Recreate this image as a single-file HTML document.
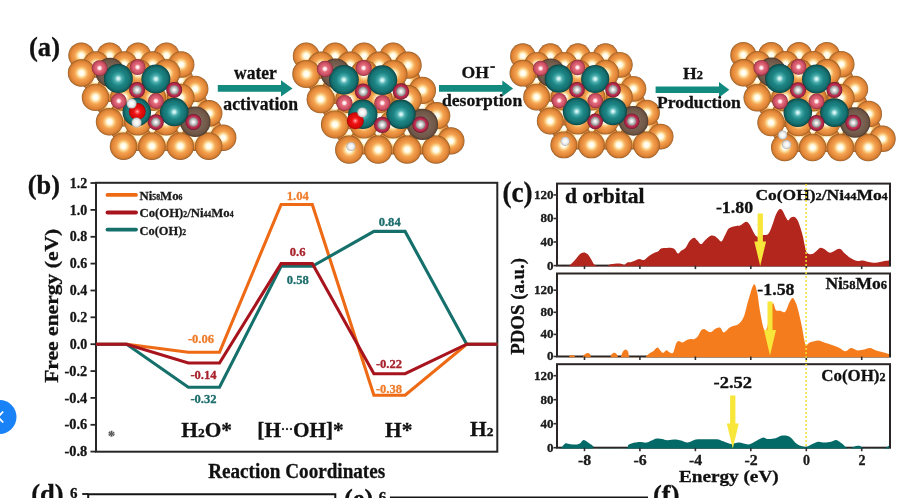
<!DOCTYPE html>
<html><head><meta charset="utf-8"><style>
html,body{margin:0;padding:0;background:#fff;width:916px;height:498px;overflow:hidden}
svg{display:block;filter:blur(0.45px)}
text{font-family:"Liberation Serif", serif;font-weight:bold}
</style></head><body>
<svg width="916" height="498" viewBox="0 0 916 498">
<defs>
<clipPath id="cp0"><rect x="558" y="183.6" width="331" height="83.0"/></clipPath>
<clipPath id="cp1"><rect x="558" y="273.5" width="331" height="84.0"/></clipPath>
<clipPath id="cp2"><rect x="558" y="364.2" width="331" height="84.5"/></clipPath>
<radialGradient id="gorg" cx="0.5" cy="0.5" r="0.5"><stop offset="0" stop-color="#ffffff"/><stop offset="0.19" stop-color="#fffbe6"/><stop offset="0.33" stop-color="#fcd48c"/><stop offset="0.5" stop-color="#f3a351"/><stop offset="0.7" stop-color="#ea9040"/><stop offset="0.86" stop-color="#db8135"/><stop offset="0.95" stop-color="#b96e2a"/><stop offset="1" stop-color="#855020"/></radialGradient>
<radialGradient id="gteal" cx="0.5" cy="0.5" r="0.5"><stop offset="0" stop-color="#eefefe"/><stop offset="0.1" stop-color="#bdeaea"/><stop offset="0.26" stop-color="#48acac"/><stop offset="0.5" stop-color="#1d8585"/><stop offset="0.78" stop-color="#177272"/><stop offset="0.92" stop-color="#105a5a"/><stop offset="1" stop-color="#0a3e3e"/></radialGradient>
<radialGradient id="gring" cx="0.5" cy="0.5" r="0.5"><stop offset="0" stop-color="#d84868"/><stop offset="0.55" stop-color="#d03e60"/><stop offset="0.74" stop-color="#b82c4c"/><stop offset="0.9" stop-color="#962040"/><stop offset="1" stop-color="#661028"/></radialGradient>
<radialGradient id="gpink" cx="0.5" cy="0.5" r="0.5"><stop offset="0" stop-color="#ffffff"/><stop offset="0.18" stop-color="#fde2e6"/><stop offset="0.38" stop-color="#e26a7a"/><stop offset="0.62" stop-color="#d65a6e"/><stop offset="0.86" stop-color="#ba4458"/><stop offset="1" stop-color="#882638"/></radialGradient>
<radialGradient id="gbrown" cx="0.5" cy="0.5" r="0.5"><stop offset="0" stop-color="#a89484"/><stop offset="0.4" stop-color="#7e6656"/><stop offset="0.85" stop-color="#6e5646"/><stop offset="1" stop-color="#4e3a2e"/></radialGradient>
<radialGradient id="gred" cx="0.5" cy="0.5" r="0.5"><stop offset="0" stop-color="#ffd0d0"/><stop offset="0.15" stop-color="#ff6060"/><stop offset="0.4" stop-color="#ec1212"/><stop offset="0.85" stop-color="#d40808"/><stop offset="1" stop-color="#960000"/></radialGradient>
<radialGradient id="gwhite" cx="0.5" cy="0.5" r="0.5"><stop offset="0" stop-color="#ffffff"/><stop offset="0.4" stop-color="#f6f6f6"/><stop offset="0.75" stop-color="#dedede"/><stop offset="1" stop-color="#a8a8a8"/></radialGradient>
<radialGradient id="ghring" cx="0.5" cy="0.5" r="0.5"><stop offset="0" stop-color="#ffffff"/><stop offset="0.22" stop-color="#f0f0f0"/><stop offset="0.55" stop-color="#c4c4c4"/><stop offset="0.85" stop-color="#9a9a9a"/><stop offset="1" stop-color="#787878"/></radialGradient>
</defs>
<rect width="916" height="498" fill="#fff"/>
<rect x="96" y="182.8" width="401.3" height="268.9" fill="none" stroke="#262626" stroke-width="2"/>
<line x1="90.5" y1="183.0" x2="96" y2="183.0" stroke="#262626" stroke-width="1.8" />
<text x="87.3" y="187.6" font-size="14" fill="#151515" stroke="#151515" stroke-width="0.3" text-anchor="end" >1.2</text>
<line x1="90.5" y1="209.9" x2="96" y2="209.9" stroke="#262626" stroke-width="1.8" />
<text x="87.3" y="214.5" font-size="14" fill="#151515" stroke="#151515" stroke-width="0.3" text-anchor="end" >1.0</text>
<line x1="90.5" y1="236.8" x2="96" y2="236.8" stroke="#262626" stroke-width="1.8" />
<text x="87.3" y="241.4" font-size="14" fill="#151515" stroke="#151515" stroke-width="0.3" text-anchor="end" >0.8</text>
<line x1="90.5" y1="263.6" x2="96" y2="263.6" stroke="#262626" stroke-width="1.8" />
<text x="87.3" y="268.2" font-size="14" fill="#151515" stroke="#151515" stroke-width="0.3" text-anchor="end" >0.6</text>
<line x1="90.5" y1="290.5" x2="96" y2="290.5" stroke="#262626" stroke-width="1.8" />
<text x="87.3" y="295.1" font-size="14" fill="#151515" stroke="#151515" stroke-width="0.3" text-anchor="end" >0.4</text>
<line x1="90.5" y1="317.3" x2="96" y2="317.3" stroke="#262626" stroke-width="1.8" />
<text x="87.3" y="321.9" font-size="14" fill="#151515" stroke="#151515" stroke-width="0.3" text-anchor="end" >0.2</text>
<line x1="90.5" y1="344.2" x2="96" y2="344.2" stroke="#262626" stroke-width="1.8" />
<text x="87.3" y="348.8" font-size="14" fill="#151515" stroke="#151515" stroke-width="0.3" text-anchor="end" >0.0</text>
<line x1="90.5" y1="371.1" x2="96" y2="371.1" stroke="#262626" stroke-width="1.8" />
<text x="64.5" y="375.7" font-size="14" fill="#151515" stroke="#151515" stroke-width="0.3" textLength="22.8" lengthAdjust="spacingAndGlyphs" >-0.2</text>
<line x1="90.5" y1="397.9" x2="96" y2="397.9" stroke="#262626" stroke-width="1.8" />
<text x="64.5" y="402.5" font-size="14" fill="#151515" stroke="#151515" stroke-width="0.3" textLength="22.8" lengthAdjust="spacingAndGlyphs" >-0.4</text>
<line x1="90.5" y1="424.8" x2="96" y2="424.8" stroke="#262626" stroke-width="1.8" />
<text x="64.5" y="429.4" font-size="14" fill="#151515" stroke="#151515" stroke-width="0.3" textLength="22.8" lengthAdjust="spacingAndGlyphs" >-0.6</text>
<line x1="90.5" y1="451.6" x2="96" y2="451.6" stroke="#262626" stroke-width="1.8" />
<text x="64.5" y="456.2" font-size="14" fill="#151515" stroke="#151515" stroke-width="0.3" textLength="22.8" lengthAdjust="spacingAndGlyphs" >-0.8</text>
<path d="M96.0,344.2 L126.7,344.2 L188.3,352.3 L219.5,352.3 L281.1,204.5 L312.3,204.5 L373.9,395.2 L405.1,395.2 L466.7,344.2 L497.3,344.2" fill="none" stroke="#ee6a14" stroke-width="3.1" stroke-linejoin="miter"/>
<path d="M96.0,344.2 L126.7,344.2 L188.3,387.2 L219.5,387.2 L281.1,266.3 L312.3,266.3 L373.9,231.4 L405.1,231.4 L466.7,344.2 L497.3,344.2" fill="none" stroke="#15706c" stroke-width="3.1" stroke-linejoin="miter"/>
<path d="M96.0,344.2 L126.7,344.2 L188.3,363.0 L219.5,363.0 L281.1,263.6 L312.3,263.6 L373.9,373.7 L405.1,373.7 L466.7,344.2 L497.3,344.2" fill="none" stroke="#a8141e" stroke-width="3.1" stroke-linejoin="miter"/>
<text x="201" y="342.8" font-size="12.6" fill="#ee7d2c" stroke="#ee7d2c" stroke-width="0.3" text-anchor="middle" >-0.06</text>
<text x="203.5" y="378.8" font-size="12.6" fill="#a8222c" stroke="#a8222c" stroke-width="0.3" text-anchor="middle" >-0.14</text>
<text x="203.5" y="402.8" font-size="12.6" fill="#1c6e6c" stroke="#1c6e6c" stroke-width="0.3" text-anchor="middle" >-0.32</text>
<text x="297.8" y="199.6" font-size="12.6" fill="#ee7d2c" stroke="#ee7d2c" stroke-width="0.3" text-anchor="middle" >1.04</text>
<text x="297.6" y="255.8" font-size="12.6" fill="#a8222c" stroke="#a8222c" stroke-width="0.3" text-anchor="middle" >0.6</text>
<text x="297.8" y="284.2" font-size="12.6" fill="#1c6e6c" stroke="#1c6e6c" stroke-width="0.3" text-anchor="middle" >0.58</text>
<text x="389.7" y="226.0" font-size="12.6" fill="#1c6e6c" stroke="#1c6e6c" stroke-width="0.3" text-anchor="middle" >0.84</text>
<text x="389" y="368.0" font-size="12.6" fill="#a8222c" stroke="#a8222c" stroke-width="0.3" text-anchor="middle" >-0.22</text>
<text x="389" y="392.8" font-size="12.6" fill="#ee7d2c" stroke="#ee7d2c" stroke-width="0.3" text-anchor="middle" >-0.38</text>
<line x1="107.5" y1="194.9" x2="136" y2="194.9" stroke="#ee6a14" stroke-width="3.8" stroke-linecap="round"/>
<line x1="107.5" y1="212.5" x2="136" y2="212.5" stroke="#a8141e" stroke-width="3.8" stroke-linecap="round"/>
<line x1="107.5" y1="229.6" x2="136" y2="229.6" stroke="#15706c" stroke-width="3.8" stroke-linecap="round"/>
<text x="139.5" y="199.6" font-size="13.2" fill="#1a1a1a" stroke="#1a1a1a" stroke-width="0.3" textLength="43" lengthAdjust="spacingAndGlyphs">Ni<tspan font-size="8">58</tspan>Mo<tspan font-size="8">6</tspan></text>
<text x="139.5" y="217.2" font-size="13.2" fill="#1a1a1a" stroke="#1a1a1a" stroke-width="0.3" textLength="94" lengthAdjust="spacingAndGlyphs">Co(OH)<tspan font-size="8">2</tspan>/Ni<tspan font-size="8">44</tspan>Mo<tspan font-size="8">4</tspan></text>
<text x="139.5" y="234.8" font-size="13.2" fill="#1a1a1a" stroke="#1a1a1a" stroke-width="0.3" textLength="46.6" lengthAdjust="spacingAndGlyphs">Co(OH)<tspan font-size="8">2</tspan></text>
<text x="108.0" y="440.8" font-size="14" fill="#555" stroke="#555" stroke-width="0.3" >*</text>
<text x="181.3" y="436.9" font-size="21.4" fill="#111" stroke="#111" stroke-width="0.3">H<tspan font-size="13.5">2</tspan>O*</text>
<text x="257.3" y="436.8" font-size="21.4" fill="#111" stroke="#111" stroke-width="0.3" textLength="86.5" lengthAdjust="spacingAndGlyphs">[H<tspan font-size="12" dy="-4">···</tspan><tspan dy="4">OH]*</tspan></text>
<text x="385" y="436.8" font-size="21.4" fill="#111" stroke="#111" stroke-width="0.3" >H*</text>
<text x="470" y="436.2" font-size="21.4" fill="#111" stroke="#111" stroke-width="0.3">H<tspan font-size="13.5">2</tspan></text>
<text x="296.7" y="477.9" font-size="20" fill="#111" stroke="#111" stroke-width="0.3" text-anchor="middle" textLength="177" lengthAdjust="spacingAndGlyphs" >Reaction Coordinates</text>
<text transform="translate(58.3,382.8) rotate(-90)" x="0" y="0" font-size="18.6" fill="#111" stroke="#111" stroke-width="0.3" textLength="154" lengthAdjust="spacingAndGlyphs">Free energy (eV)</text>
<text x="27.8" y="194.0" font-size="27" fill="#111" stroke="#111" stroke-width="0.3" textLength="32.2" lengthAdjust="spacingAndGlyphs" >(b)</text>
<rect x="557" y="183.6" width="333" height="82.00000000000003" fill="none" stroke="#2a2424" stroke-width="2"/>
<rect x="557" y="273.5" width="333" height="83.0" fill="none" stroke="#2a2424" stroke-width="2"/>
<rect x="557" y="364.2" width="333" height="83.5" fill="none" stroke="#2a2424" stroke-width="2"/>
<path d="M558.0,266.6 L558.0,266.6 C559.6,266.6 565.3,267.0 567.5,266.6 C569.7,266.2 569.8,265.1 571.0,264.0 C572.2,262.9 573.6,261.6 575.0,260.0 C576.4,258.4 578.1,255.8 579.5,254.5 C580.9,253.2 582.2,252.5 583.5,252.4 C584.8,252.3 586.2,252.9 587.5,254.0 C588.8,255.1 589.8,257.2 591.0,259.0 C592.2,260.8 593.0,263.5 594.5,264.8 C596.0,266.1 598.0,266.3 600.0,266.6 C602.0,266.9 604.5,267.0 606.3,266.6 C608.1,266.2 608.7,264.7 610.7,264.2 C612.8,263.7 616.6,263.4 618.6,263.4 C620.6,263.4 621.5,263.9 622.5,264.2 C623.5,264.4 623.7,265.2 624.5,264.9 C625.3,264.6 626.2,262.9 627.4,262.4 C628.5,261.9 630.1,262.2 631.4,261.9 C632.7,261.6 634.0,261.0 635.3,260.5 C636.6,260.0 637.7,259.1 639.2,259.0 C640.7,258.9 642.5,260.5 644.1,260.0 C645.7,259.5 647.2,257.2 649.0,256.0 C650.8,254.8 653.4,253.3 654.9,252.6 C656.4,251.9 656.9,252.2 657.9,251.6 C658.9,250.9 659.6,249.3 660.8,248.7 C661.9,248.1 663.1,248.2 664.8,248.0 C666.4,247.8 669.1,247.5 670.7,247.7 C672.3,247.9 673.4,248.2 674.6,249.2 C675.8,250.2 676.9,253.4 678.0,253.6 C679.1,253.8 680.2,251.6 681.5,250.6 C682.8,249.6 684.2,249.4 685.6,247.8 C687.0,246.2 688.4,242.5 689.8,240.8 C691.2,239.1 692.8,237.7 694.1,237.7 C695.4,237.7 696.4,239.7 697.6,240.8 C698.8,241.9 699.8,244.4 701.1,244.3 C702.4,244.2 703.8,241.5 705.3,240.1 C706.8,238.7 708.7,236.6 710.2,235.9 C711.7,235.2 713.2,235.4 714.5,235.9 C715.8,236.4 716.8,237.8 718.0,238.7 C719.2,239.6 720.3,242.1 721.5,241.5 C722.7,240.9 723.8,237.3 725.0,235.2 C726.2,233.1 727.2,230.2 728.5,228.8 C729.8,227.4 731.4,227.2 732.7,226.7 C734.0,226.2 735.0,226.2 736.3,226.0 C737.6,225.8 738.9,226.0 740.5,225.3 C742.1,224.6 744.6,221.9 746.1,221.8 C747.6,221.7 748.4,223.0 749.6,224.6 C750.8,226.2 752.1,229.7 753.1,231.6 C754.1,233.5 754.9,235.0 755.9,235.9 C756.9,236.8 757.9,237.1 759.0,237.0 C760.1,236.9 761.2,235.7 762.8,235.1 C764.4,234.5 766.8,235.6 768.4,233.7 C770.0,231.8 771.4,227.2 772.7,223.9 C774.0,220.6 775.0,216.6 776.2,214.1 C777.4,211.6 778.7,209.7 779.7,209.1 C780.8,208.5 781.6,209.3 782.5,210.5 C783.4,211.7 784.4,214.5 785.3,216.2 C786.2,217.8 787.2,220.2 788.1,220.4 C789.0,220.6 789.9,218.2 790.9,217.6 C791.9,217.0 793.3,216.6 794.4,216.9 C795.5,217.2 796.3,218.1 797.3,219.7 C798.2,221.3 799.2,223.9 800.1,226.7 C801.0,229.5 802.1,233.2 802.9,236.5 C803.7,239.8 804.3,243.7 805.0,246.4 C805.7,249.1 805.9,251.4 807.1,252.7 C808.3,254.0 810.5,254.3 812.0,254.1 C813.5,253.9 814.8,252.4 816.2,251.3 C817.6,250.2 819.0,248.2 820.4,247.8 C821.8,247.5 823.1,248.4 824.7,249.2 C826.3,250.0 827.8,252.8 830.2,252.7 C832.6,252.6 836.9,248.6 839.3,248.7 C841.7,248.8 842.9,251.7 844.7,253.2 C846.5,254.7 848.0,256.4 850.1,257.7 C852.2,259.0 855.2,260.6 857.3,261.0 C859.4,261.4 860.8,260.2 862.8,260.4 C864.8,260.6 866.9,261.6 869.0,262.0 C871.1,262.4 872.8,263.0 875.4,262.8 C878.0,262.6 882.1,261.4 884.4,261.0 C886.7,260.6 888.2,260.5 889.0,260.4 L889.0,266.6 Z" fill="#b2261e" clip-path="url(#cp0)"/>
<path d="M558.0,357.5 L558.0,357.5 C559.7,357.5 566.0,357.8 568.0,357.5 C570.0,357.2 569.0,355.9 570.0,355.6 C571.0,355.3 573.0,355.3 574.0,355.6 C575.0,355.9 574.7,357.2 576.0,357.5 C577.3,357.8 580.6,358.0 582.0,357.5 C583.4,357.0 583.6,355.2 584.5,354.5 C585.4,353.8 586.7,353.1 587.6,353.0 C588.5,352.9 589.2,353.2 590.0,354.0 C590.8,354.8 589.3,356.9 592.5,357.5 C595.7,358.1 605.9,357.9 609.0,357.5 C612.1,357.1 610.2,355.8 611.0,355.0 C611.8,354.2 612.9,353.0 613.8,352.8 C614.7,352.6 615.7,353.2 616.5,354.0 C617.3,354.8 617.8,356.9 618.5,357.5 C619.2,358.1 619.8,358.5 620.5,357.5 C621.2,356.5 622.1,352.8 623.0,351.5 C623.9,350.2 624.8,349.5 625.6,349.5 C626.4,349.5 627.2,350.2 628.0,351.5 C628.8,352.8 627.9,356.5 630.5,357.5 C633.1,358.5 641.1,357.5 643.5,357.5 C645.9,357.5 643.9,358.2 644.9,357.5 C645.9,356.8 648.2,354.3 649.6,353.3 C651.0,352.3 651.9,352.2 653.2,351.3 C654.5,350.4 656.2,347.7 657.4,347.6 C658.6,347.5 659.5,349.8 660.5,350.7 C661.5,351.6 662.2,352.9 663.2,352.8 C664.2,352.7 665.3,350.3 666.3,350.2 C667.3,350.1 668.4,351.8 669.4,352.3 C670.4,352.8 671.3,353.4 672.0,353.3 C672.7,353.2 672.9,353.5 673.6,351.8 C674.3,350.1 675.3,345.2 676.2,343.4 C677.1,341.6 677.8,341.2 678.8,341.1 C679.8,341.0 681.1,342.8 682.5,342.6 C683.9,342.4 685.7,340.4 687.2,339.8 C688.7,339.2 690.3,339.1 691.4,339.0 C692.5,338.9 693.0,339.6 694.0,339.2 C695.0,338.8 696.5,338.0 697.6,336.6 C698.7,335.2 699.8,332.2 700.8,330.9 C701.8,329.6 702.7,328.9 703.9,329.0 C705.1,329.1 706.9,330.9 708.1,331.4 C709.3,331.9 710.0,332.5 711.2,332.1 C712.4,331.7 713.9,329.5 715.4,328.8 C716.9,328.1 718.8,327.2 720.2,327.8 C721.6,328.4 722.3,332.4 723.8,332.4 C725.3,332.4 727.8,328.9 729.3,327.8 C730.8,326.7 731.4,326.6 732.9,326.0 C734.4,325.4 736.5,325.7 738.3,324.2 C740.1,322.7 742.1,320.9 743.7,317.0 C745.4,313.1 746.5,306.1 748.2,300.7 C749.9,295.3 752.2,285.8 753.7,284.4 C755.2,283.0 756.1,288.0 757.1,292.1 C758.1,296.2 758.6,303.4 759.6,309.1 C760.6,314.8 762.0,322.6 763.0,326.2 C764.0,329.8 764.9,331.2 765.8,330.5 C766.7,329.8 767.6,325.8 768.5,322.0 C769.4,318.2 770.2,311.1 771.0,308.0 C771.8,304.9 772.5,302.9 773.3,303.2 C774.1,303.5 774.7,308.7 775.8,310.0 C776.9,311.3 778.5,310.5 780.1,310.8 C781.7,311.1 783.6,313.1 785.2,311.7 C786.8,310.3 788.2,304.6 789.5,302.3 C790.8,300.0 791.8,297.7 792.9,298.0 C794.0,298.3 795.4,301.7 796.3,304.0 C797.2,306.3 797.5,307.6 798.5,311.6 C799.5,315.6 801.1,322.7 802.1,327.8 C803.1,332.9 804.0,339.4 804.8,342.3 C805.5,345.2 805.7,345.0 806.6,345.0 C807.5,345.0 808.2,343.1 810.2,342.3 C812.2,341.6 816.1,340.5 818.4,340.5 C820.7,340.5 821.5,341.6 823.8,342.3 C826.0,343.1 829.3,344.1 831.9,345.0 C834.5,345.9 836.8,346.6 839.1,347.7 C841.4,348.8 843.5,351.2 845.5,351.3 C847.5,351.4 848.9,348.2 850.9,348.1 C852.9,348.0 855.0,350.2 857.2,350.4 C859.5,350.6 862.3,349.9 864.4,349.5 C866.5,349.1 868.0,348.0 869.9,348.1 C871.8,348.2 874.0,349.8 876.0,350.4 C878.0,351.0 879.8,351.4 882.0,352.0 C884.2,352.6 887.8,353.7 889.0,354.0 L889.0,357.5 Z" fill="#f47c1c" clip-path="url(#cp1)"/>
<path d="M558.0,448.7 L558.0,448.7 C558.4,448.7 559.4,449.6 560.6,448.7 C561.8,447.8 563.6,444.2 565.2,443.5 C566.8,442.8 568.4,444.1 570.4,444.3 C572.4,444.5 575.4,444.7 577.0,444.5 C578.6,444.3 579.1,443.9 580.2,443.2 C581.3,442.4 582.3,440.2 583.5,440.0 C584.7,439.8 586.1,441.1 587.4,441.9 C588.7,442.7 590.5,444.0 591.5,444.8 C592.5,445.6 592.8,445.9 593.5,446.5 C594.2,447.1 590.3,448.3 595.5,448.7 C600.7,449.1 619.0,449.3 624.5,448.7 C630.0,448.1 626.8,445.8 628.5,444.8 C630.2,443.8 632.7,443.1 634.6,442.6 C636.5,442.1 637.8,441.9 639.8,441.9 C641.8,441.9 644.4,442.8 646.4,442.6 C648.4,442.4 649.9,441.3 651.6,440.6 C653.4,439.9 655.1,438.9 656.9,438.6 C658.6,438.3 660.4,438.6 662.1,438.9 C663.9,439.2 665.1,440.1 667.4,440.2 C669.7,440.3 673.7,439.4 676.0,439.5 C678.3,439.6 679.2,440.1 681.2,440.6 C683.2,441.1 685.4,442.8 687.8,442.6 C690.2,442.4 692.7,440.2 695.7,439.6 C698.8,439.1 702.6,439.4 706.1,439.3 C709.6,439.2 713.8,439.0 716.6,439.3 C719.5,439.6 720.8,440.5 723.2,441.3 C725.6,442.1 728.4,443.7 731.0,443.9 C733.6,444.1 736.0,442.5 738.9,442.6 C741.8,442.7 745.5,444.6 748.1,444.5 C750.7,444.4 752.2,442.8 754.6,441.7 C757.0,440.6 760.3,438.1 762.5,437.7 C764.7,437.2 765.5,438.9 767.7,439.0 C769.9,439.1 773.2,438.9 775.6,438.3 C778.0,437.7 779.7,435.8 782.1,435.6 C784.5,435.4 787.5,435.5 790.0,436.9 C792.5,438.3 794.4,442.2 797.0,443.9 C799.6,445.6 803.1,446.8 805.5,446.9 C807.9,447.0 809.3,445.4 811.4,444.5 C813.5,443.6 815.8,442.0 818.0,441.7 C820.2,441.4 822.3,442.6 824.5,442.6 C826.7,442.6 829.1,442.1 831.1,441.7 C833.1,441.3 834.5,439.8 836.3,440.0 C838.0,440.2 839.6,441.8 841.6,443.2 C843.6,444.6 846.1,448.1 848.1,448.7 C850.1,449.3 851.4,447.4 853.4,446.9 C855.4,446.4 857.9,445.6 859.9,445.9 C861.9,446.2 861.5,448.2 865.2,448.7 C868.9,449.2 878.3,449.2 882.2,448.7 C886.1,448.2 887.6,446.4 888.7,445.9 C889.8,445.4 889.0,445.6 889.0,445.5 L889.0,448.7 Z" fill="#046a68" clip-path="url(#cp2)"/>
<path d="M757.6,213.4 L762.9,213.4 L762.9,241.5 L766.1,241.5 L760.2,266.0 L754.3,241.5 L757.6,241.5 Z" fill="#f8e63a"/>
<path d="M767.5,301.5 L772.5,301.5 L772.5,330.0 L776.0,330.0 L770.0,355.5 L764.0,330.0 L767.5,330.0 Z" fill="#f8e63a"/>
<path d="M730.1,395.4 L735.4,395.4 L735.4,423.6 L738.8,423.6 L732.8,448.5 L726.8,423.6 L730.1,423.6 Z" fill="#f8e63a"/>
<line x1="553.5" y1="265.6" x2="557" y2="265.6" stroke="#303030" stroke-width="1.6" />
<text x="547.1" y="269.5" font-size="11.5" fill="#1a1a1a" stroke="#1a1a1a" stroke-width="0.3" textLength="6.5" lengthAdjust="spacingAndGlyphs" >0</text>
<line x1="553.5" y1="242.0" x2="557" y2="242.0" stroke="#303030" stroke-width="1.6" />
<text x="540.6" y="245.9" font-size="11.5" fill="#1a1a1a" stroke="#1a1a1a" stroke-width="0.3" textLength="13.0" lengthAdjust="spacingAndGlyphs" >40</text>
<line x1="553.5" y1="218.5" x2="557" y2="218.5" stroke="#303030" stroke-width="1.6" />
<text x="540.6" y="222.4" font-size="11.5" fill="#1a1a1a" stroke="#1a1a1a" stroke-width="0.3" textLength="13.0" lengthAdjust="spacingAndGlyphs" >80</text>
<line x1="553.5" y1="194.9" x2="557" y2="194.9" stroke="#303030" stroke-width="1.6" />
<text x="534.1" y="198.8" font-size="11.5" fill="#1a1a1a" stroke="#1a1a1a" stroke-width="0.3" textLength="19.5" lengthAdjust="spacingAndGlyphs" >120</text>
<line x1="584.5" y1="265.6" x2="584.5" y2="269.1" stroke="#303030" stroke-width="1.6" />
<line x1="639.9" y1="265.6" x2="639.9" y2="269.1" stroke="#303030" stroke-width="1.6" />
<line x1="695.4" y1="265.6" x2="695.4" y2="269.1" stroke="#303030" stroke-width="1.6" />
<line x1="750.8" y1="265.6" x2="750.8" y2="269.1" stroke="#303030" stroke-width="1.6" />
<line x1="806.3" y1="265.6" x2="806.3" y2="269.1" stroke="#303030" stroke-width="1.6" />
<line x1="861.7" y1="265.6" x2="861.7" y2="269.1" stroke="#303030" stroke-width="1.6" />
<line x1="553.5" y1="356.5" x2="557" y2="356.5" stroke="#303030" stroke-width="1.6" />
<text x="547.1" y="360.4" font-size="11.5" fill="#1a1a1a" stroke="#1a1a1a" stroke-width="0.3" textLength="6.5" lengthAdjust="spacingAndGlyphs" >0</text>
<line x1="553.5" y1="334.4" x2="557" y2="334.4" stroke="#303030" stroke-width="1.6" />
<text x="540.6" y="338.3" font-size="11.5" fill="#1a1a1a" stroke="#1a1a1a" stroke-width="0.3" textLength="13.0" lengthAdjust="spacingAndGlyphs" >40</text>
<line x1="553.5" y1="312.3" x2="557" y2="312.3" stroke="#303030" stroke-width="1.6" />
<text x="540.6" y="316.2" font-size="11.5" fill="#1a1a1a" stroke="#1a1a1a" stroke-width="0.3" textLength="13.0" lengthAdjust="spacingAndGlyphs" >80</text>
<line x1="553.5" y1="290.2" x2="557" y2="290.2" stroke="#303030" stroke-width="1.6" />
<text x="534.1" y="294.1" font-size="11.5" fill="#1a1a1a" stroke="#1a1a1a" stroke-width="0.3" textLength="19.5" lengthAdjust="spacingAndGlyphs" >120</text>
<line x1="584.5" y1="356.5" x2="584.5" y2="360.0" stroke="#303030" stroke-width="1.6" />
<line x1="639.9" y1="356.5" x2="639.9" y2="360.0" stroke="#303030" stroke-width="1.6" />
<line x1="695.4" y1="356.5" x2="695.4" y2="360.0" stroke="#303030" stroke-width="1.6" />
<line x1="750.8" y1="356.5" x2="750.8" y2="360.0" stroke="#303030" stroke-width="1.6" />
<line x1="806.3" y1="356.5" x2="806.3" y2="360.0" stroke="#303030" stroke-width="1.6" />
<line x1="861.7" y1="356.5" x2="861.7" y2="360.0" stroke="#303030" stroke-width="1.6" />
<line x1="553.5" y1="447.7" x2="557" y2="447.7" stroke="#303030" stroke-width="1.6" />
<text x="547.1" y="451.6" font-size="11.5" fill="#1a1a1a" stroke="#1a1a1a" stroke-width="0.3" textLength="6.5" lengthAdjust="spacingAndGlyphs" >0</text>
<line x1="553.5" y1="423.7" x2="557" y2="423.7" stroke="#303030" stroke-width="1.6" />
<text x="540.6" y="427.6" font-size="11.5" fill="#1a1a1a" stroke="#1a1a1a" stroke-width="0.3" textLength="13.0" lengthAdjust="spacingAndGlyphs" >40</text>
<line x1="553.5" y1="399.7" x2="557" y2="399.7" stroke="#303030" stroke-width="1.6" />
<text x="540.6" y="403.6" font-size="11.5" fill="#1a1a1a" stroke="#1a1a1a" stroke-width="0.3" textLength="13.0" lengthAdjust="spacingAndGlyphs" >80</text>
<line x1="553.5" y1="375.7" x2="557" y2="375.7" stroke="#303030" stroke-width="1.6" />
<text x="534.1" y="379.6" font-size="11.5" fill="#1a1a1a" stroke="#1a1a1a" stroke-width="0.3" textLength="19.5" lengthAdjust="spacingAndGlyphs" >120</text>
<line x1="584.5" y1="447.7" x2="584.5" y2="451.2" stroke="#303030" stroke-width="1.6" />
<line x1="639.9" y1="447.7" x2="639.9" y2="451.2" stroke="#303030" stroke-width="1.6" />
<line x1="695.4" y1="447.7" x2="695.4" y2="451.2" stroke="#303030" stroke-width="1.6" />
<line x1="750.8" y1="447.7" x2="750.8" y2="451.2" stroke="#303030" stroke-width="1.6" />
<line x1="806.3" y1="447.7" x2="806.3" y2="451.2" stroke="#303030" stroke-width="1.6" />
<line x1="861.7" y1="447.7" x2="861.7" y2="451.2" stroke="#303030" stroke-width="1.6" />
<text x="584.7" y="464.6" font-size="14" fill="#1a1a1a" stroke="#1a1a1a" stroke-width="0.3" text-anchor="middle" textLength="13.2" lengthAdjust="spacingAndGlyphs" >-8</text>
<text x="640.1" y="464.6" font-size="14" fill="#1a1a1a" stroke="#1a1a1a" stroke-width="0.3" text-anchor="middle" textLength="13.2" lengthAdjust="spacingAndGlyphs" >-6</text>
<text x="695.6" y="464.6" font-size="14" fill="#1a1a1a" stroke="#1a1a1a" stroke-width="0.3" text-anchor="middle" textLength="13.2" lengthAdjust="spacingAndGlyphs" >-4</text>
<text x="751.0" y="464.6" font-size="14" fill="#1a1a1a" stroke="#1a1a1a" stroke-width="0.3" text-anchor="middle" textLength="13.2" lengthAdjust="spacingAndGlyphs" >-2</text>
<text x="806.5" y="464.6" font-size="14" fill="#1a1a1a" stroke="#1a1a1a" stroke-width="0.3" text-anchor="middle" >0</text>
<text x="861.9" y="464.6" font-size="14" fill="#1a1a1a" stroke="#1a1a1a" stroke-width="0.3" text-anchor="middle" >2</text>
<text x="565" y="203.1" font-size="20" fill="#111" stroke="#111" stroke-width="0.3" textLength="79.6" lengthAdjust="spacingAndGlyphs" >d orbital</text>
<text x="715.9" y="213.4" font-size="16.3" fill="#111" stroke="#111" stroke-width="0.3" textLength="37.2" lengthAdjust="spacingAndGlyphs" >-1.80</text>
<text x="755.5" y="199.8" font-size="14.8" fill="#111" stroke="#111" stroke-width="0.3" textLength="132.3" lengthAdjust="spacingAndGlyphs">Co(OH)<tspan font-size="10.5">2</tspan>/Ni<tspan font-size="10.5">44</tspan>Mo<tspan font-size="10.5">4</tspan></text>
<text x="757.3" y="295.3" font-size="16.3" fill="#111" stroke="#111" stroke-width="0.3" textLength="37.2" lengthAdjust="spacingAndGlyphs" >-1.58</text>
<text x="825.4" y="289.2" font-size="16" fill="#111" stroke="#111" stroke-width="0.3" textLength="61.6" lengthAdjust="spacingAndGlyphs">Ni<tspan font-size="11.5">58</tspan>Mo<tspan font-size="11.5">6</tspan></text>
<text x="713.5" y="388.4" font-size="16.3" fill="#111" stroke="#111" stroke-width="0.3" textLength="38.5" lengthAdjust="spacingAndGlyphs" >-2.52</text>
<text x="821.2" y="380.7" font-size="16" fill="#111" stroke="#111" stroke-width="0.3" textLength="64.4" lengthAdjust="spacingAndGlyphs">Co(OH)<tspan font-size="11.5">2</tspan></text>
<text x="678.9" y="481.8" font-size="16.4" fill="#111" stroke="#111" stroke-width="0.3" textLength="99.8" lengthAdjust="spacingAndGlyphs" >Energy (eV)</text>
<text transform="translate(523.8,354.8) rotate(-90)" x="0" y="0" font-size="19" fill="#111" stroke="#111" stroke-width="0.3" textLength="96.8" lengthAdjust="spacingAndGlyphs">PDOS (a.u.)</text>
<text x="502.4" y="202.2" font-size="28.5" fill="#111" stroke="#111" stroke-width="0.3" textLength="30.2" lengthAdjust="spacingAndGlyphs" >(c)</text>
<line x1="806.1" y1="184" x2="806.1" y2="448" stroke="#f5e030" stroke-width="1.5" stroke-dasharray="2.1,1.9"/>
<text x="29.0" y="55.8" font-size="27" fill="#111" stroke="#111" stroke-width="0.3" textLength="31" lengthAdjust="spacingAndGlyphs" >(a)</text>
<circle cx="81.3" cy="55.5" r="13.0" fill="url(#gorg)"/>
<circle cx="109.7" cy="55.5" r="13.0" fill="url(#gorg)"/>
<circle cx="138.1" cy="55.5" r="13.0" fill="url(#gorg)"/>
<circle cx="166.5" cy="55.5" r="13.0" fill="url(#gorg)"/>
<circle cx="95.3" cy="79.9" r="13.0" fill="url(#gorg)"/>
<circle cx="123.7" cy="79.9" r="13.0" fill="url(#gorg)"/>
<circle cx="152.1" cy="79.9" r="13.0" fill="url(#gorg)"/>
<circle cx="180.5" cy="79.9" r="13.0" fill="url(#gorg)"/>
<circle cx="109.3" cy="104.3" r="13.0" fill="url(#gorg)"/>
<circle cx="137.7" cy="104.3" r="13.0" fill="url(#gorg)"/>
<circle cx="166.1" cy="104.3" r="13.0" fill="url(#gorg)"/>
<circle cx="194.5" cy="104.3" r="13.0" fill="url(#gorg)"/>
<circle cx="123.3" cy="128.7" r="13.0" fill="url(#gorg)"/>
<circle cx="151.7" cy="128.7" r="13.0" fill="url(#gorg)"/>
<circle cx="180.1" cy="128.7" r="13.0" fill="url(#gorg)"/>
<circle cx="208.5" cy="128.7" r="13.0" fill="url(#gorg)"/>
<circle cx="96.0" cy="64.5" r="13.2" fill="url(#gorg)"/>
<circle cx="124.4" cy="64.5" r="13.2" fill="url(#gorg)"/>
<circle cx="152.8" cy="64.5" r="13.2" fill="url(#gorg)"/>
<circle cx="181.2" cy="64.5" r="13.2" fill="url(#gorg)"/>
<circle cx="110.0" cy="88.9" r="13.2" fill="url(#gorg)"/>
<circle cx="138.4" cy="88.9" r="13.2" fill="url(#gorg)"/>
<circle cx="166.8" cy="88.9" r="13.2" fill="url(#gorg)"/>
<circle cx="195.2" cy="88.9" r="13.2" fill="url(#gorg)"/>
<circle cx="124.0" cy="113.3" r="13.2" fill="url(#gorg)"/>
<circle cx="152.4" cy="113.3" r="13.2" fill="url(#gorg)"/>
<circle cx="180.8" cy="113.3" r="13.2" fill="url(#gorg)"/>
<circle cx="209.2" cy="113.3" r="13.2" fill="url(#gorg)"/>
<circle cx="138.0" cy="137.7" r="13.2" fill="url(#gorg)"/>
<circle cx="166.4" cy="137.7" r="13.2" fill="url(#gorg)"/>
<circle cx="194.8" cy="137.7" r="13.2" fill="url(#gorg)"/>
<circle cx="223.2" cy="137.7" r="13.2" fill="url(#gorg)"/>
<circle cx="81.5" cy="73.0" r="13.7" fill="url(#gorg)"/>
<circle cx="109.9" cy="73.0" r="13.7" fill="url(#gorg)"/>
<circle cx="138.3" cy="73.0" r="13.7" fill="url(#gorg)"/>
<circle cx="166.7" cy="73.0" r="13.7" fill="url(#gorg)"/>
<circle cx="95.5" cy="97.4" r="13.7" fill="url(#gorg)"/>
<circle cx="123.9" cy="97.4" r="13.7" fill="url(#gorg)"/>
<circle cx="152.3" cy="97.4" r="13.7" fill="url(#gorg)"/>
<circle cx="180.7" cy="97.4" r="13.7" fill="url(#gorg)"/>
<circle cx="109.5" cy="121.8" r="13.7" fill="url(#gorg)"/>
<circle cx="137.9" cy="121.8" r="13.7" fill="url(#gorg)"/>
<circle cx="166.3" cy="121.8" r="13.7" fill="url(#gorg)"/>
<circle cx="194.7" cy="121.8" r="13.7" fill="url(#gorg)"/>
<circle cx="123.5" cy="146.2" r="13.7" fill="url(#gorg)"/>
<circle cx="151.9" cy="146.2" r="13.7" fill="url(#gorg)"/>
<circle cx="180.3" cy="146.2" r="13.7" fill="url(#gorg)"/>
<circle cx="208.7" cy="146.2" r="13.7" fill="url(#gorg)"/>
<circle cx="110.0" cy="72.3" r="14.5" fill="url(#gbrown)"/>
<circle cx="195.3" cy="121.7" r="15.2" fill="url(#gbrown)"/>
<circle cx="118.3" cy="78.6" r="14.5" fill="url(#gteal)"/>
<circle cx="155.9" cy="79.0" r="14.5" fill="url(#gteal)"/>
<circle cx="136.8" cy="112.0" r="14.3" fill="url(#gteal)"/>
<circle cx="174.2" cy="112.0" r="14.3" fill="url(#gteal)"/>
<circle cx="99.6" cy="68.1" r="7.9" fill="url(#gpink)"/>
<circle cx="137.6" cy="67.2" r="7.9" fill="url(#gpink)"/>
<circle cx="118.8" cy="101.0" r="7.9" fill="url(#gpink)"/>
<circle cx="155.9" cy="101.0" r="7.9" fill="url(#gpink)"/>
<circle cx="137.1" cy="90.0" r="8.0" fill="url(#gring)"/>
<circle cx="137.1" cy="90.0" r="4.7" fill="url(#ghring)"/>
<circle cx="174.2" cy="89.9" r="8.0" fill="url(#gring)"/>
<circle cx="174.2" cy="89.9" r="4.7" fill="url(#ghring)"/>
<circle cx="155.8" cy="122.2" r="8.0" fill="url(#gring)"/>
<circle cx="155.8" cy="122.2" r="4.7" fill="url(#ghring)"/>
<circle cx="193.4" cy="122.0" r="8.0" fill="url(#gring)"/>
<circle cx="193.4" cy="122.0" r="4.7" fill="url(#ghring)"/>
<circle cx="137.3" cy="111.6" r="8.5" fill="url(#gred)"/>
<circle cx="131.6" cy="103.6" r="5.0" fill="url(#gwhite)"/>
<circle cx="136.6" cy="122.6" r="5.0" fill="url(#gwhite)"/>
<circle cx="306.2" cy="55.9" r="13.4" fill="url(#gorg)"/>
<circle cx="335.2" cy="55.9" r="13.4" fill="url(#gorg)"/>
<circle cx="364.1" cy="55.9" r="13.4" fill="url(#gorg)"/>
<circle cx="393.1" cy="55.9" r="13.4" fill="url(#gorg)"/>
<circle cx="320.5" cy="81.1" r="13.4" fill="url(#gorg)"/>
<circle cx="349.4" cy="81.1" r="13.4" fill="url(#gorg)"/>
<circle cx="378.4" cy="81.1" r="13.4" fill="url(#gorg)"/>
<circle cx="407.4" cy="81.1" r="13.4" fill="url(#gorg)"/>
<circle cx="334.8" cy="106.4" r="13.4" fill="url(#gorg)"/>
<circle cx="363.7" cy="106.4" r="13.4" fill="url(#gorg)"/>
<circle cx="392.7" cy="106.4" r="13.4" fill="url(#gorg)"/>
<circle cx="421.7" cy="106.4" r="13.4" fill="url(#gorg)"/>
<circle cx="349.0" cy="131.6" r="13.4" fill="url(#gorg)"/>
<circle cx="378.0" cy="131.6" r="13.4" fill="url(#gorg)"/>
<circle cx="407.0" cy="131.6" r="13.4" fill="url(#gorg)"/>
<circle cx="435.9" cy="131.6" r="13.4" fill="url(#gorg)"/>
<circle cx="321.2" cy="65.2" r="13.6" fill="url(#gorg)"/>
<circle cx="350.2" cy="65.2" r="13.6" fill="url(#gorg)"/>
<circle cx="379.1" cy="65.2" r="13.6" fill="url(#gorg)"/>
<circle cx="408.1" cy="65.2" r="13.6" fill="url(#gorg)"/>
<circle cx="335.5" cy="90.4" r="13.6" fill="url(#gorg)"/>
<circle cx="364.4" cy="90.4" r="13.6" fill="url(#gorg)"/>
<circle cx="393.4" cy="90.4" r="13.6" fill="url(#gorg)"/>
<circle cx="422.4" cy="90.4" r="13.6" fill="url(#gorg)"/>
<circle cx="349.8" cy="115.7" r="13.6" fill="url(#gorg)"/>
<circle cx="378.7" cy="115.7" r="13.6" fill="url(#gorg)"/>
<circle cx="407.7" cy="115.7" r="13.6" fill="url(#gorg)"/>
<circle cx="436.7" cy="115.7" r="13.6" fill="url(#gorg)"/>
<circle cx="364.0" cy="140.9" r="13.6" fill="url(#gorg)"/>
<circle cx="393.0" cy="140.9" r="13.6" fill="url(#gorg)"/>
<circle cx="422.0" cy="140.9" r="13.6" fill="url(#gorg)"/>
<circle cx="450.9" cy="140.9" r="13.6" fill="url(#gorg)"/>
<circle cx="306.4" cy="74.0" r="14.1" fill="url(#gorg)"/>
<circle cx="335.4" cy="74.0" r="14.1" fill="url(#gorg)"/>
<circle cx="364.3" cy="74.0" r="14.1" fill="url(#gorg)"/>
<circle cx="393.3" cy="74.0" r="14.1" fill="url(#gorg)"/>
<circle cx="320.7" cy="99.2" r="14.1" fill="url(#gorg)"/>
<circle cx="349.6" cy="99.2" r="14.1" fill="url(#gorg)"/>
<circle cx="378.6" cy="99.2" r="14.1" fill="url(#gorg)"/>
<circle cx="407.6" cy="99.2" r="14.1" fill="url(#gorg)"/>
<circle cx="335.0" cy="124.5" r="14.1" fill="url(#gorg)"/>
<circle cx="363.9" cy="124.5" r="14.1" fill="url(#gorg)"/>
<circle cx="392.9" cy="124.5" r="14.1" fill="url(#gorg)"/>
<circle cx="421.9" cy="124.5" r="14.1" fill="url(#gorg)"/>
<circle cx="349.2" cy="149.7" r="14.1" fill="url(#gorg)"/>
<circle cx="378.2" cy="149.7" r="14.1" fill="url(#gorg)"/>
<circle cx="407.2" cy="149.7" r="14.1" fill="url(#gorg)"/>
<circle cx="436.1" cy="149.7" r="14.1" fill="url(#gorg)"/>
<circle cx="335.5" cy="73.3" r="14.9" fill="url(#gbrown)"/>
<circle cx="422.5" cy="124.4" r="15.6" fill="url(#gbrown)"/>
<circle cx="343.9" cy="79.8" r="14.9" fill="url(#gteal)"/>
<circle cx="382.3" cy="80.2" r="14.9" fill="url(#gteal)"/>
<circle cx="362.8" cy="114.3" r="14.7" fill="url(#gteal)"/>
<circle cx="401.0" cy="114.3" r="14.7" fill="url(#gteal)"/>
<circle cx="324.9" cy="68.9" r="8.1" fill="url(#gpink)"/>
<circle cx="363.6" cy="68.0" r="8.1" fill="url(#gpink)"/>
<circle cx="344.4" cy="103.0" r="8.1" fill="url(#gpink)"/>
<circle cx="382.3" cy="103.0" r="8.1" fill="url(#gpink)"/>
<circle cx="363.1" cy="91.6" r="8.2" fill="url(#gring)"/>
<circle cx="363.1" cy="91.6" r="4.8" fill="url(#ghring)"/>
<circle cx="401.0" cy="91.5" r="8.2" fill="url(#gring)"/>
<circle cx="401.0" cy="91.5" r="4.8" fill="url(#ghring)"/>
<circle cx="382.2" cy="124.9" r="8.2" fill="url(#gring)"/>
<circle cx="382.2" cy="124.9" r="4.8" fill="url(#ghring)"/>
<circle cx="420.5" cy="124.7" r="8.2" fill="url(#gring)"/>
<circle cx="420.5" cy="124.7" r="4.8" fill="url(#ghring)"/>
<circle cx="355.3" cy="120.8" r="8.5" fill="url(#gred)"/>
<circle cx="362.3" cy="112.4" r="5.0" fill="url(#gwhite)"/>
<circle cx="351.0" cy="146.5" r="4.6" fill="url(#gwhite)"/>
<circle cx="522.8" cy="56.0" r="12.7" fill="url(#gorg)"/>
<circle cx="550.4" cy="56.0" r="12.7" fill="url(#gorg)"/>
<circle cx="578.0" cy="56.0" r="12.7" fill="url(#gorg)"/>
<circle cx="605.5" cy="56.0" r="12.7" fill="url(#gorg)"/>
<circle cx="536.4" cy="79.9" r="12.7" fill="url(#gorg)"/>
<circle cx="564.0" cy="79.9" r="12.7" fill="url(#gorg)"/>
<circle cx="591.6" cy="79.9" r="12.7" fill="url(#gorg)"/>
<circle cx="619.1" cy="79.9" r="12.7" fill="url(#gorg)"/>
<circle cx="550.0" cy="103.8" r="12.7" fill="url(#gorg)"/>
<circle cx="577.6" cy="103.8" r="12.7" fill="url(#gorg)"/>
<circle cx="605.2" cy="103.8" r="12.7" fill="url(#gorg)"/>
<circle cx="632.7" cy="103.8" r="12.7" fill="url(#gorg)"/>
<circle cx="563.6" cy="127.8" r="12.7" fill="url(#gorg)"/>
<circle cx="591.2" cy="127.8" r="12.7" fill="url(#gorg)"/>
<circle cx="618.7" cy="127.8" r="12.7" fill="url(#gorg)"/>
<circle cx="646.3" cy="127.8" r="12.7" fill="url(#gorg)"/>
<circle cx="537.1" cy="64.8" r="12.9" fill="url(#gorg)"/>
<circle cx="564.7" cy="64.8" r="12.9" fill="url(#gorg)"/>
<circle cx="592.2" cy="64.8" r="12.9" fill="url(#gorg)"/>
<circle cx="619.8" cy="64.8" r="12.9" fill="url(#gorg)"/>
<circle cx="550.7" cy="88.8" r="12.9" fill="url(#gorg)"/>
<circle cx="578.3" cy="88.8" r="12.9" fill="url(#gorg)"/>
<circle cx="605.8" cy="88.8" r="12.9" fill="url(#gorg)"/>
<circle cx="633.4" cy="88.8" r="12.9" fill="url(#gorg)"/>
<circle cx="564.3" cy="112.7" r="12.9" fill="url(#gorg)"/>
<circle cx="591.9" cy="112.7" r="12.9" fill="url(#gorg)"/>
<circle cx="619.4" cy="112.7" r="12.9" fill="url(#gorg)"/>
<circle cx="647.0" cy="112.7" r="12.9" fill="url(#gorg)"/>
<circle cx="577.9" cy="136.6" r="12.9" fill="url(#gorg)"/>
<circle cx="605.4" cy="136.6" r="12.9" fill="url(#gorg)"/>
<circle cx="633.0" cy="136.6" r="12.9" fill="url(#gorg)"/>
<circle cx="660.6" cy="136.6" r="12.9" fill="url(#gorg)"/>
<circle cx="523.0" cy="73.2" r="13.4" fill="url(#gorg)"/>
<circle cx="550.6" cy="73.2" r="13.4" fill="url(#gorg)"/>
<circle cx="578.2" cy="73.2" r="13.4" fill="url(#gorg)"/>
<circle cx="605.7" cy="73.2" r="13.4" fill="url(#gorg)"/>
<circle cx="536.6" cy="97.1" r="13.4" fill="url(#gorg)"/>
<circle cx="564.2" cy="97.1" r="13.4" fill="url(#gorg)"/>
<circle cx="591.8" cy="97.1" r="13.4" fill="url(#gorg)"/>
<circle cx="619.3" cy="97.1" r="13.4" fill="url(#gorg)"/>
<circle cx="550.2" cy="121.0" r="13.4" fill="url(#gorg)"/>
<circle cx="577.8" cy="121.0" r="13.4" fill="url(#gorg)"/>
<circle cx="605.3" cy="121.0" r="13.4" fill="url(#gorg)"/>
<circle cx="632.9" cy="121.0" r="13.4" fill="url(#gorg)"/>
<circle cx="563.8" cy="144.9" r="13.4" fill="url(#gorg)"/>
<circle cx="591.4" cy="144.9" r="13.4" fill="url(#gorg)"/>
<circle cx="618.9" cy="144.9" r="13.4" fill="url(#gorg)"/>
<circle cx="646.5" cy="144.9" r="13.4" fill="url(#gorg)"/>
<circle cx="550.7" cy="72.5" r="14.1" fill="url(#gbrown)"/>
<circle cx="633.5" cy="120.9" r="14.8" fill="url(#gbrown)"/>
<circle cx="558.7" cy="78.7" r="14.1" fill="url(#gteal)"/>
<circle cx="595.2" cy="79.0" r="14.1" fill="url(#gteal)"/>
<circle cx="576.7" cy="111.4" r="13.9" fill="url(#gteal)"/>
<circle cx="613.0" cy="111.4" r="13.9" fill="url(#gteal)"/>
<circle cx="540.6" cy="68.4" r="7.7" fill="url(#gpink)"/>
<circle cx="577.5" cy="67.5" r="7.7" fill="url(#gpink)"/>
<circle cx="559.2" cy="100.6" r="7.7" fill="url(#gpink)"/>
<circle cx="595.2" cy="100.6" r="7.7" fill="url(#gpink)"/>
<circle cx="577.0" cy="89.8" r="7.8" fill="url(#gring)"/>
<circle cx="577.0" cy="89.8" r="4.6" fill="url(#ghring)"/>
<circle cx="613.0" cy="89.7" r="7.8" fill="url(#gring)"/>
<circle cx="613.0" cy="89.7" r="4.6" fill="url(#ghring)"/>
<circle cx="595.2" cy="121.4" r="7.8" fill="url(#gring)"/>
<circle cx="595.2" cy="121.4" r="4.6" fill="url(#ghring)"/>
<circle cx="631.7" cy="121.2" r="7.8" fill="url(#gring)"/>
<circle cx="631.7" cy="121.2" r="4.6" fill="url(#ghring)"/>
<circle cx="565.2" cy="141.3" r="4.6" fill="url(#gwhite)"/>
<circle cx="743.3" cy="55.0" r="13.0" fill="url(#gorg)"/>
<circle cx="771.2" cy="55.0" r="13.0" fill="url(#gorg)"/>
<circle cx="799.0" cy="55.0" r="13.0" fill="url(#gorg)"/>
<circle cx="826.9" cy="55.0" r="13.0" fill="url(#gorg)"/>
<circle cx="757.0" cy="79.9" r="13.0" fill="url(#gorg)"/>
<circle cx="784.9" cy="79.9" r="13.0" fill="url(#gorg)"/>
<circle cx="812.8" cy="79.9" r="13.0" fill="url(#gorg)"/>
<circle cx="840.6" cy="79.9" r="13.0" fill="url(#gorg)"/>
<circle cx="770.8" cy="104.8" r="13.0" fill="url(#gorg)"/>
<circle cx="798.6" cy="104.8" r="13.0" fill="url(#gorg)"/>
<circle cx="826.5" cy="104.8" r="13.0" fill="url(#gorg)"/>
<circle cx="854.4" cy="104.8" r="13.0" fill="url(#gorg)"/>
<circle cx="784.5" cy="129.6" r="13.0" fill="url(#gorg)"/>
<circle cx="812.4" cy="129.6" r="13.0" fill="url(#gorg)"/>
<circle cx="840.2" cy="129.6" r="13.0" fill="url(#gorg)"/>
<circle cx="868.1" cy="129.6" r="13.0" fill="url(#gorg)"/>
<circle cx="757.7" cy="64.2" r="13.2" fill="url(#gorg)"/>
<circle cx="785.6" cy="64.2" r="13.2" fill="url(#gorg)"/>
<circle cx="813.4" cy="64.2" r="13.2" fill="url(#gorg)"/>
<circle cx="841.3" cy="64.2" r="13.2" fill="url(#gorg)"/>
<circle cx="771.5" cy="89.0" r="13.2" fill="url(#gorg)"/>
<circle cx="799.3" cy="89.0" r="13.2" fill="url(#gorg)"/>
<circle cx="827.2" cy="89.0" r="13.2" fill="url(#gorg)"/>
<circle cx="855.0" cy="89.0" r="13.2" fill="url(#gorg)"/>
<circle cx="785.2" cy="113.9" r="13.2" fill="url(#gorg)"/>
<circle cx="813.1" cy="113.9" r="13.2" fill="url(#gorg)"/>
<circle cx="840.9" cy="113.9" r="13.2" fill="url(#gorg)"/>
<circle cx="868.8" cy="113.9" r="13.2" fill="url(#gorg)"/>
<circle cx="798.9" cy="138.8" r="13.2" fill="url(#gorg)"/>
<circle cx="826.8" cy="138.8" r="13.2" fill="url(#gorg)"/>
<circle cx="854.6" cy="138.8" r="13.2" fill="url(#gorg)"/>
<circle cx="882.5" cy="138.8" r="13.2" fill="url(#gorg)"/>
<circle cx="743.5" cy="72.8" r="13.7" fill="url(#gorg)"/>
<circle cx="771.4" cy="72.8" r="13.7" fill="url(#gorg)"/>
<circle cx="799.2" cy="72.8" r="13.7" fill="url(#gorg)"/>
<circle cx="827.1" cy="72.8" r="13.7" fill="url(#gorg)"/>
<circle cx="757.2" cy="97.7" r="13.7" fill="url(#gorg)"/>
<circle cx="785.1" cy="97.7" r="13.7" fill="url(#gorg)"/>
<circle cx="813.0" cy="97.7" r="13.7" fill="url(#gorg)"/>
<circle cx="840.8" cy="97.7" r="13.7" fill="url(#gorg)"/>
<circle cx="771.0" cy="122.6" r="13.7" fill="url(#gorg)"/>
<circle cx="798.8" cy="122.6" r="13.7" fill="url(#gorg)"/>
<circle cx="826.7" cy="122.6" r="13.7" fill="url(#gorg)"/>
<circle cx="854.6" cy="122.6" r="13.7" fill="url(#gorg)"/>
<circle cx="784.7" cy="147.5" r="13.7" fill="url(#gorg)"/>
<circle cx="812.6" cy="147.5" r="13.7" fill="url(#gorg)"/>
<circle cx="840.4" cy="147.5" r="13.7" fill="url(#gorg)"/>
<circle cx="868.3" cy="147.5" r="13.7" fill="url(#gorg)"/>
<circle cx="771.5" cy="72.1" r="14.5" fill="url(#gbrown)"/>
<circle cx="855.1" cy="122.5" r="15.2" fill="url(#gbrown)"/>
<circle cx="779.6" cy="78.5" r="14.5" fill="url(#gteal)"/>
<circle cx="816.5" cy="79.0" r="14.5" fill="url(#gteal)"/>
<circle cx="797.8" cy="112.6" r="14.3" fill="url(#gteal)"/>
<circle cx="834.4" cy="112.6" r="14.3" fill="url(#gteal)"/>
<circle cx="761.3" cy="67.8" r="7.9" fill="url(#gpink)"/>
<circle cx="798.5" cy="66.9" r="7.9" fill="url(#gpink)"/>
<circle cx="780.1" cy="101.4" r="7.9" fill="url(#gpink)"/>
<circle cx="816.5" cy="101.4" r="7.9" fill="url(#gpink)"/>
<circle cx="798.0" cy="90.2" r="8.0" fill="url(#gring)"/>
<circle cx="798.0" cy="90.2" r="4.7" fill="url(#ghring)"/>
<circle cx="834.4" cy="90.1" r="8.0" fill="url(#gring)"/>
<circle cx="834.4" cy="90.1" r="4.7" fill="url(#ghring)"/>
<circle cx="816.4" cy="123.0" r="8.0" fill="url(#gring)"/>
<circle cx="816.4" cy="123.0" r="4.7" fill="url(#ghring)"/>
<circle cx="853.3" cy="122.8" r="8.0" fill="url(#gring)"/>
<circle cx="853.3" cy="122.8" r="4.7" fill="url(#ghring)"/>
<circle cx="782.6" cy="135.1" r="4.6" fill="url(#gwhite)"/>
<circle cx="786.6" cy="144.6" r="4.6" fill="url(#gwhite)"/>
<path d="M217.8,85.1 L281,85.1 L281,80.2 L292.5,88.4 L281,96.6 L281,91.7 L217.8,91.7 Z" fill="#138a80"/>
<path d="M439,85.1 L502.3,85.1 L502.3,80.4 L513.1,88.4 L502.3,96.4 L502.3,91.7 L439,91.7 Z" fill="#138a80"/>
<path d="M655.6,86.6 L719,86.6 L719,82.0 L729.3,89.8 L719,97.6 L719,93.0 L655.6,93.0 Z" fill="#138a80"/>
<text x="234.1" y="78.5" font-size="18" fill="#111" stroke="#111" stroke-width="0.3" textLength="42.8" lengthAdjust="spacingAndGlyphs" >water</text>
<text x="223.3" y="110.4" font-size="18" fill="#111" stroke="#111" stroke-width="0.3" textLength="74.7" lengthAdjust="spacingAndGlyphs" >activation</text>
<text x="461.6" y="77.9" font-size="17.2" fill="#111" stroke="#111" stroke-width="0.3" textLength="27.4" lengthAdjust="spacingAndGlyphs">OH</text>
<rect x="490.3" y="66.2" width="4.6" height="1.7" fill="#111"/>
<text x="442" y="106.2" font-size="17.6" fill="#111" stroke="#111" stroke-width="0.3" textLength="80.2" lengthAdjust="spacingAndGlyphs" >desorption</text>
<text x="683.0" y="78.6" font-size="17.6" fill="#111" stroke="#111" stroke-width="0.3">H<tspan font-size="12.4">2</tspan></text>
<text x="657" y="108" font-size="17.5" fill="#111" stroke="#111" stroke-width="0.3" textLength="83.8" lengthAdjust="spacingAndGlyphs" >Production</text>
<text x="31.2" y="503.0" font-size="26.5" fill="#111" stroke="#111" stroke-width="0.3" >(d)</text>
<text x="70.0" y="497.6" font-size="15" fill="#111" stroke="#111" stroke-width="0.3" >6</text>
<line x1="82.2" y1="494.0" x2="88.2" y2="494.0" stroke="#111" stroke-width="1.8" />
<path d="M88.2,510 L88.2,494.2 L335.3,494.2 L335.3,510" fill="none" stroke="#151515" stroke-width="2"/>
<text x="344.0" y="507.8" font-size="26.5" fill="#111" stroke="#111" stroke-width="0.3" >(e)</text>
<text x="378.8" y="501.8" font-size="15" fill="#111" stroke="#111" stroke-width="0.3" >6</text>
<path d="M389.9,497.6 L648,497.6" fill="none" stroke="#151515" stroke-width="2"/>
<text x="653.0" y="503.8" font-size="26.5" fill="#111" stroke="#111" stroke-width="0.3" >(f)</text>
<circle cx="-0.5" cy="417" r="17" fill="#1a82f7"/>
<path d="M3.2,411.5 L-2,417 L3.2,422.5" fill="none" stroke="#fff" stroke-width="1.8"/>
</svg>
</body></html>
